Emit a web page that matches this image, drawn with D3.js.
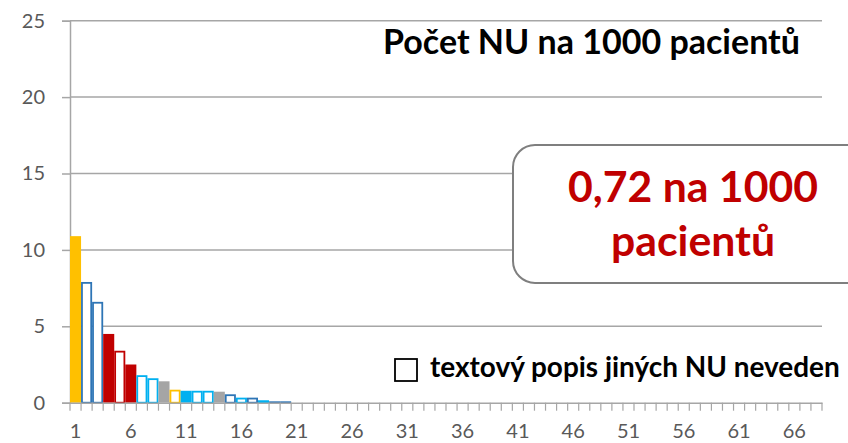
<!DOCTYPE html>
<html><head><meta charset="utf-8">
<script src="https://cdn.jsdelivr.net/npm/d3@7"></script>
<style>
html,body{margin:0;padding:0;background:#fff;}
svg{display:block;font-family:Lato,"Open Sans",sans-serif;}
</style></head>
<body><svg id="c" width="848" height="443"></svg>
<script>
// ---- data ----
const categories = d3.range(1, 69);
const values = [10.9, 7.9, 6.6, 4.5, 3.4, 2.5, 1.8, 1.6, 1.4, 0.85,
                0.78, 0.78, 0.78, 0.72, 0.55, 0.33, 0.33, 0.16, 0.09, 0.09]
               .concat(d3.range(48).map(() => 0));
const barColors = ["#FFC000", "#2E75B6", "#2E75B6", "#C00000", "#C00000", "#C00000",
                   "#00B0F0", "#00B0F0", "#A5A5A5", "#FFC000", "#00B0F0", "#00B0F0",
                   "#00B0F0", "#A5A5A5", "#2E75B6", "#00B0F0", "#2E75B6", "#00B0F0",
                   "#2E75B6", "#2E75B6"];
const barFilled = [true, false, false, true, false, true, false, false, true, false,
                   true, false, false, true, false, false, false, false, false, false];
const yTicks = [0, 5, 10, 15, 20, 25];
const xLabels = [1, 6, 11, 16, 21, 26, 31, 36, 41, 46, 51, 56, 61, 66];
const titleText = "Počet NU na 1000 pacientů";
const boxLines = ["0,72 na 1000", "pacientů"];
const legendText = "textový popis jiných NU neveden";

(function () {
  const svg = d3.select("#c");
  const pL = 70, pR = 822, pT = 20.7, pB = 402.7;
  const x = d3.scaleBand().domain(categories).range([pL, pR]).padding(0);
  const y = d3.scaleLinear().domain([0, 25]).range([pB, pT]);
  const gridColor = "#A6A6A6", labelColor = "#595959";

  // gridlines
  svg.append("g").selectAll("line").data(yTicks.filter(d => d > 0)).join("line")
    .attr("x1", pL).attr("x2", pR).attr("y1", d => y(d)).attr("y2", d => y(d))
    .attr("stroke", gridColor).attr("stroke-width", 1.5);

  // y axis
  const yAxis = svg.append("g").attr("transform", `translate(${pL},0)`)
    .call(d3.axisLeft(y).tickValues(yTicks).tickSize(8).tickPadding(17));
  yAxis.select(".domain").attr("stroke", gridColor).attr("stroke-width", 1.5);
  yAxis.selectAll(".tick line").attr("stroke", gridColor).attr("stroke-width", 1.5);
  yAxis.selectAll("text").attr("fill", labelColor).style("font-size", "20px")
    .style("font-family", "Lato, sans-serif");

  // bars
  const barData = categories.map((c, i) => ({c, v: values[i], col: barColors[i], filled: barFilled[i]}))
    .filter(d => d.v > 0);
  svg.append("g").selectAll("rect").data(barData).join("rect")
    .attr("x", d => x(d.c) + (d.filled ? 0 : 0.9))
    .attr("width", d => x.bandwidth() - (d.filled ? 0 : 1.8))
    .attr("y", d => y(d.v) + (d.filled ? 0 : 0.9))
    .attr("height", d => Math.max(0, y(0) - y(d.v) - (d.filled ? 0 : 0.9)))
    .attr("fill", d => d.filled ? d.col : "#fff")
    .attr("stroke", d => d.filled ? "none" : d.col)
    .attr("stroke-width", 1.8);

  // x axis
  const xAxis = svg.append("g").attr("transform", `translate(0,${pB})`)
    .call(d3.axisBottom(x).tickSize(0).tickFormat(d => xLabels.includes(d) ? d : "").tickPadding(21));
  xAxis.select(".domain").attr("stroke", gridColor).attr("stroke-width", 1.5);
  xAxis.selectAll("text").attr("fill", labelColor).style("font-size", "20px")
    .style("font-family", "Lato, sans-serif");
  // tick marks between categories
  svg.append("g").selectAll("line").data(d3.range(categories.length + 1)).join("line")
    .attr("x1", i => pL + i * x.step()).attr("x2", i => pL + i * x.step())
    .attr("y1", pB).attr("y2", pB + 8)
    .attr("stroke", gridColor).attr("stroke-width", 1.2);

  function fit(sel, w) {
    const len = sel.node().getComputedTextLength();
    const fs = parseFloat(sel.style("font-size"));
    sel.style("font-size", (fs * w / len) + "px");
  }

  // title
  const t = svg.append("text").attr("x", 591.5).attr("y", 53.5).attr("text-anchor", "middle")
    .style("font-size", "26px").style("font-weight", "bold").attr("fill", "#000").text(titleText);
  fit(t, 417);

  // callout box
  svg.append("rect").attr("x", 513).attr("y", 145).attr("width", 380).attr("height", 138)
    .attr("rx", 22).attr("ry", 22).attr("fill", "#fff").attr("stroke", "#7F7F7F").attr("stroke-width", 2);
  const b1 = svg.append("text").attr("x", 693).attr("y", 202).attr("text-anchor", "middle")
    .style("font-size", "42px").style("font-weight", "bold").attr("fill", "#C00000").text(boxLines[0]);
  fit(b1, 250);
  svg.append("text").attr("x", 693).attr("y", 256).attr("text-anchor", "middle")
    .style("font-size", b1.style("font-size")).style("font-weight", "bold").attr("fill", "#C00000").text(boxLines[1]);

  // legend
  svg.append("rect").attr("x", 395).attr("y", 359).attr("width", 22).attr("height", 22)
    .attr("fill", "#fff").attr("stroke", "#000").attr("stroke-width", 1.8);
  const lg = svg.append("text").attr("x", 430).attr("y", 377).style("font-size", "22px")
    .style("font-weight", "bold").attr("fill", "#000").text(legendText);
  fit(lg, 410);
})();
</script></body></html>
